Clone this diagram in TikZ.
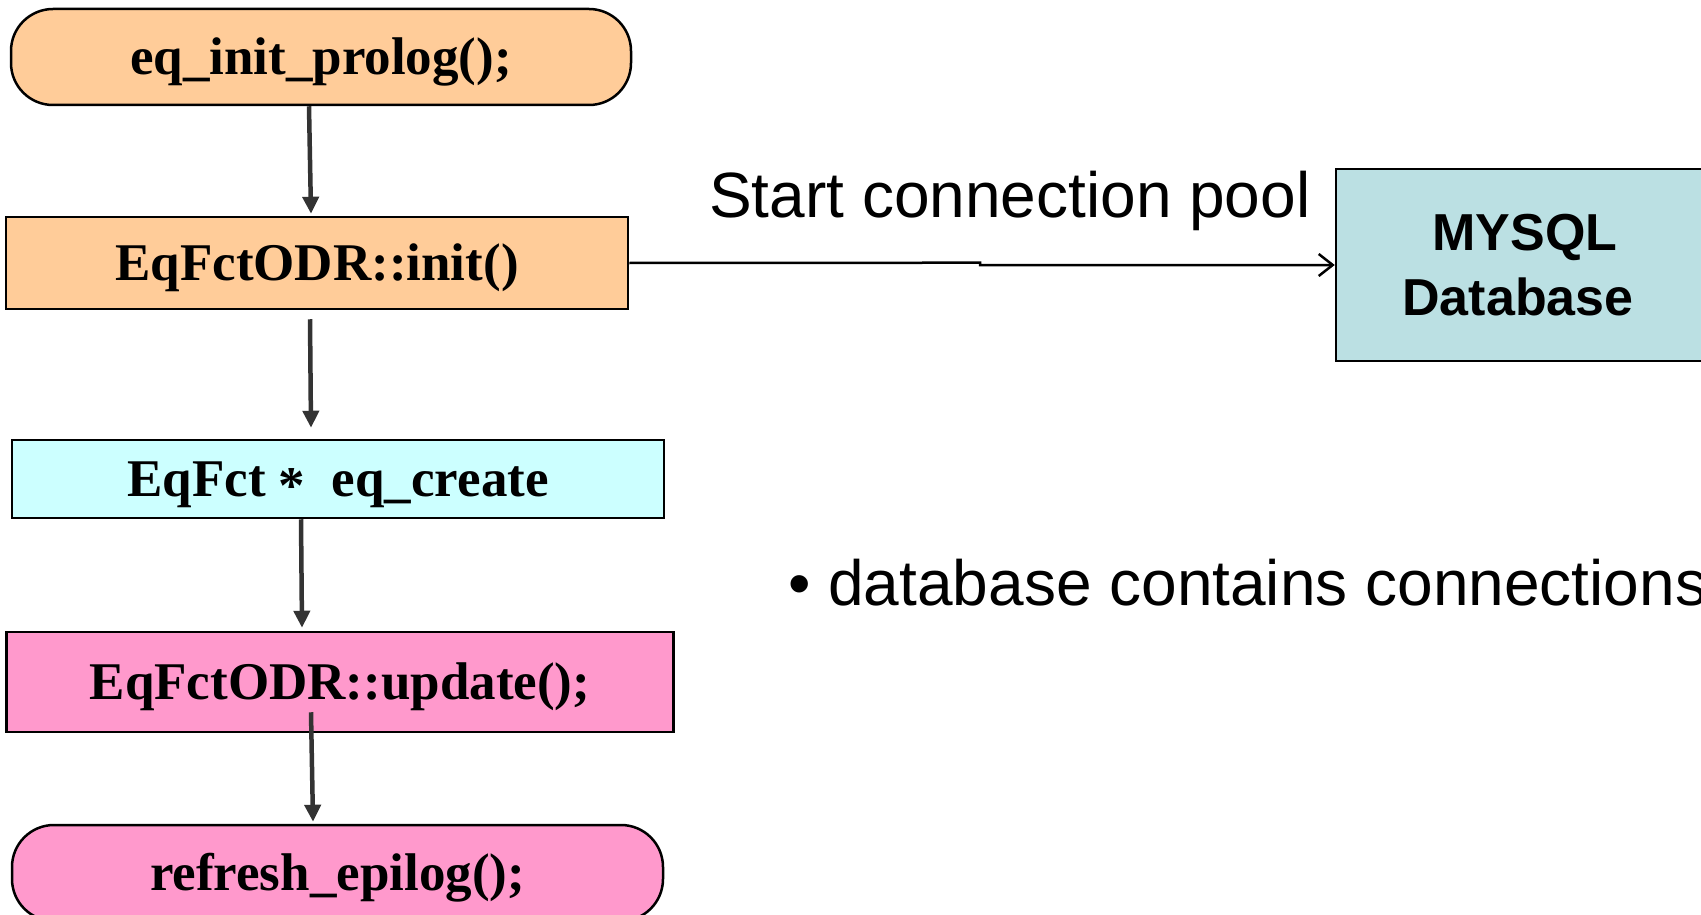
\documentclass[tikz,border=0pt]{standalone}
\usepackage{fontspec}
\setmainfont{Liberation Serif}
\setsansfont{Liberation Sans}
\usetikzlibrary{arrows.meta}

\definecolor{peach}{HTML}{FFCC99}
\definecolor{paleCyan}{HTML}{CCFFFF}
\definecolor{rosePink}{HTML}{FF99CC}
\definecolor{dbTeal}{HTML}{BBE0E3}
\definecolor{flowGray}{HTML}{333333}

\begin{document}
\begin{tikzpicture}[x=1pt,y=-1pt,
  stepbox/.style={draw=black, line width=2.5pt, inner sep=0pt,
    text height=35pt, text depth=0pt,
    font=\fontsize{53}{60}\selectfont\bfseries},
  terminal/.style={stepbox, rounded corners=42pt},
  flow/.style={draw=flowGray, line width=4.5pt,
    -{Triangle[length=17pt,width=16pt]}},
  dbbox/.style={draw=black, line width=2.5pt, fill=dbTeal, inner sep=0pt,
    align=center, font=\fontsize{52}{65}\selectfont\sffamily\bfseries},
  plain/.style={inner sep=0pt, anchor=base west,
    font=\fontsize{64}{70}\selectfont\sffamily}
]
\useasboundingbox (0,0) rectangle (1701,915);
\clip (0,0) rectangle (1701,915);

% flow of calls
\node[terminal, fill=peach, minimum width=620pt, minimum height=96pt]
  (prolog) at (321,57) {eq\_init\_prolog();};
\node[stepbox, fill=peach, minimum width=622pt, minimum height=92pt]
  (init) at (317,263) {EqFctODR::init()};
\node[stepbox, fill=paleCyan, minimum width=652pt, minimum height=78pt]
  (create) at (338,479) {EqFct \raisebox{-7pt}{*}\ \ eq\_create};
\node[stepbox, fill=rosePink, minimum width=667pt, minimum height=100pt]
  (update) at (340,682) {EqFctODR::update();};
\node[terminal, fill=rosePink, minimum width=651pt, minimum height=96pt]
  (epilog) at (337.5,873) {refresh\_epilog();};

% database
\node[dbbox, minimum width=378pt, minimum height=192pt]
  (db) at (1525,265) {MYSQL\\Database\kern14pt};

% texts
\node[plain] (pooltext) at (709,218) {Start connection pool};
\node[plain] (note) at (788,605) {• database contains connections};

% connectors
\draw[flow] ([xshift=-12pt]prolog.south) -- ([xshift=-6pt,yshift=2pt]init.north);
\draw[flow] ([xshift=-7pt,yshift=-9pt]init.south) -- ([xshift=-27pt,yshift=11pt]create.north);
\draw[flow] ([xshift=-37pt]create.south) -- ([xshift=-38pt,yshift=3pt]update.north);
\draw[flow] ([xshift=-29pt,yshift=21pt]update.south) -- ([xshift=-24.5pt,yshift=2pt]epilog.north);

\coordinate (kinkA) at (980,262.7);
\coordinate (kinkB) at (980,265);
\draw[line width=2.5pt, -{Straight Barb[length=14pt,width=22pt]}]
  (init.east) -- (kinkA) -- (kinkB) -- (db.west);
\end{tikzpicture}
\end{document}
